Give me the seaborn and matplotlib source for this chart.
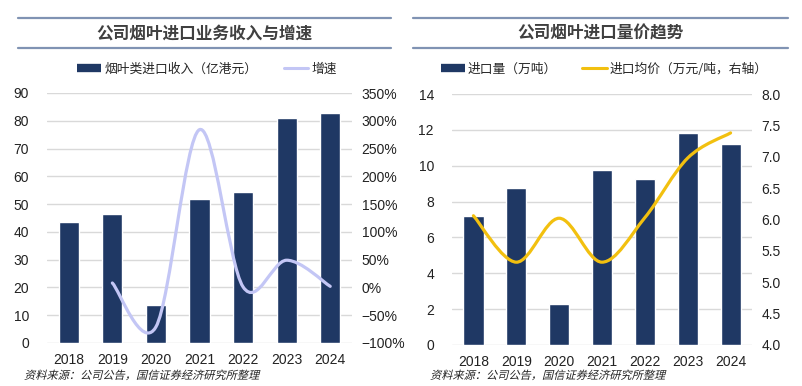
import numpy as np
import matplotlib
matplotlib.use('Agg')
import matplotlib.pyplot as plt
import seaborn as sns
from matplotlib.lines import Line2D
from matplotlib.path import Path
from matplotlib.patches import PathPatch
from matplotlib.textpath import TextPath
from matplotlib.font_manager import FontProperties
from matplotlib.transforms import Affine2D, IdentityTransform
from matplotlib.ticker import FuncFormatter, MultipleLocator

# Data
years = ['2018', '2019', '2020', '2021', '2022', '2023', '2024']
revenue = [43.5, 46.4, 13.7, 51.8, 54.3, 81.0, 82.8]        # 亿港元
growth = [None, 0.08, -0.71, 2.84, 0.01, 0.49, 0.02]        # 增速
volume = [7.2, 8.77, 2.3, 9.78, 9.27, 11.8, 11.23]          # 万吨
price = [6.06, 5.32, 6.02, 5.32, 6.03, 6.98, 7.38]          # 万元/吨
source = '资料来源：公司公告，国信证券经济研究所整理'

NAVY = '#1F3864'
LAVENDER = '#C3C6F5'
GOLD = '#F2C00F'
GRID = '#D9D9D9'
RULE = '#8093B3'
TXT = '#404040'

sns.set_theme(style='white')
plt.rcParams['font.family'] = ['Liberation Sans', 'Noto Sans CJK SC', 'DejaVu Sans']
plt.rcParams['axes.unicode_minus'] = True


def smooth_path(xs, ys):
    """Excel-style smoothed line: Bezier segments with Catmull-Rom control points."""
    pts = np.column_stack([xs, ys]).astype(float)
    verts = [tuple(pts[0])]
    codes = [Path.MOVETO]
    n = len(pts)
    for i in range(n - 1):
        p0 = pts[i - 1] if i > 0 else pts[i]
        p1, p2 = pts[i], pts[i + 1]
        p3 = pts[i + 2] if i + 2 < n else pts[i + 1]
        c1 = p1 + (p2 - p0) / 6
        c2 = p2 - (p3 - p1) / 6
        verts += [tuple(c1), tuple(c2), tuple(p2)]
        codes += [Path.CURVE4] * 3
    return Path(verts, codes)


def style_axes(ax, twin):
    for a in (ax, twin):
        for s in a.spines.values():
            s.set_visible(False)
        a.tick_params(length=0, labelsize=10, colors='#222222')
    ax.grid(axis='y', color=GRID, linewidth=1)
    ax.set_axisbelow(True)
    ax.tick_params(axis='y', pad=13)
    ax.tick_params(axis='x', pad=7)
    twin.tick_params(axis='y', pad=7)
    ax.set_xlabel('')
    ax.set_ylabel('')
    ax.set_xlim(-0.5, len(years) - 0.5)


def panel_header(fig, x0, x1, title):
    for py in (18, 48):
        y = 1 - py / 386
        fig.add_artist(Line2D([x0 / 802, x1 / 802], [y, y], transform=fig.transFigure,
                              color=RULE, linewidth=1.6))
    fig.text((x0 + x1) / 2 / 802, 1 - 33 / 386, title, ha='center', va='center',
             fontsize=12, fontweight='bold', color=TXT,
             family=['Noto Sans CJK SC', 'DejaVu Sans'])


def slanted_note(fig, x_px, base_px, text):
    # CJK fonts have no italic face, so shear the glyph outlines instead
    tp = TextPath((0, 0), text, size=11.2, prop=FontProperties(family='Noto Sans CJK SC'))
    tr = Affine2D().skew_deg(14, 0).translate(x_px, base_px) + IdentityTransform()
    fig.add_artist(PathPatch(tp, transform=tr, facecolor='#222222', edgecolor='none'))


fig = plt.figure(figsize=(8.02, 3.86), dpi=100)
fig.patch.set_facecolor('white')

# ---- Left panel: revenue and growth ----
ax1 = fig.add_axes([47 / 802, 1 - 343 / 386, 305 / 802, 250 / 386])
sns.barplot(x=years, y=revenue, color=NAVY, width=0.46, saturation=1, ax=ax1)
ax1.set_ylim(0, 90)
ax1.yaxis.set_major_locator(MultipleLocator(10))
tw1 = ax1.twinx()
gx = [i for i, g in enumerate(growth) if g is not None]
gy = [g for g in growth if g is not None]
tw1.add_patch(PathPatch(smooth_path(gx, gy), facecolor='none', edgecolor=LAVENDER,
                        linewidth=2.3, capstyle='round'))
tw1.set_ylim(-1.0, 3.5)
tw1.yaxis.set_major_locator(MultipleLocator(0.5))
tw1.yaxis.set_major_formatter(FuncFormatter(lambda v, p: f'{v * 100:.0f}%'.replace('-', '\u2212')))
style_axes(ax1, tw1)

panel_header(fig, 18, 391, '公司烟叶进口业务收入与增速')
h1 = [Line2D([], [], color=NAVY, linewidth=6, solid_capstyle='butt'),
      Line2D([], [], color=LAVENDER, linewidth=2.2)]
fig.legend(h1, ['烟叶类进口收入（亿港元）', '增速'], loc='center',
           bbox_to_anchor=(207 / 802, 1 - 69 / 386), ncol=2, frameon=False,
           prop={'family': ['Noto Sans CJK SC'], 'size': 9.2},
           handlelength=1.9, handletextpad=0.3, columnspacing=2.0)
slanted_note(fig, 24, 7, source)

# ---- Right panel: volume and price ----
ax2 = fig.add_axes([452 / 802, 1 - 345 / 386, 300 / 802, 251 / 386])
sns.barplot(x=years, y=volume, color=NAVY, width=0.47, saturation=1, ax=ax2)
ax2.set_ylim(0, 14)
ax2.yaxis.set_major_locator(MultipleLocator(2))
tw2 = ax2.twinx()
tw2.add_patch(PathPatch(smooth_path(range(len(years)), price), facecolor='none',
                        edgecolor=GOLD, linewidth=2.3, capstyle='round'))
tw2.set_ylim(4.0, 8.0)
tw2.yaxis.set_major_locator(MultipleLocator(0.5))
tw2.yaxis.set_major_formatter(FuncFormatter(lambda v, p: f'{v:.1f}'))
style_axes(ax2, tw2)

panel_header(fig, 413, 788, '公司烟叶进口量价趋势')
h2 = [Line2D([], [], color=NAVY, linewidth=6, solid_capstyle='butt'),
      Line2D([], [], color=GOLD, linewidth=2.2)]
fig.legend(h2, ['进口量（万吨）', '进口均价（万元/吨，右轴）'], loc='center',
           bbox_to_anchor=(604 / 802, 1 - 69 / 386), ncol=2, frameon=False,
           prop={'family': ['Noto Sans CJK SC'], 'size': 9.2},
           handlelength=1.9, handletextpad=0.2, columnspacing=2.0)
slanted_note(fig, 430, 7, source)

fig.savefig('out.png', dpi=100, facecolor='white')
